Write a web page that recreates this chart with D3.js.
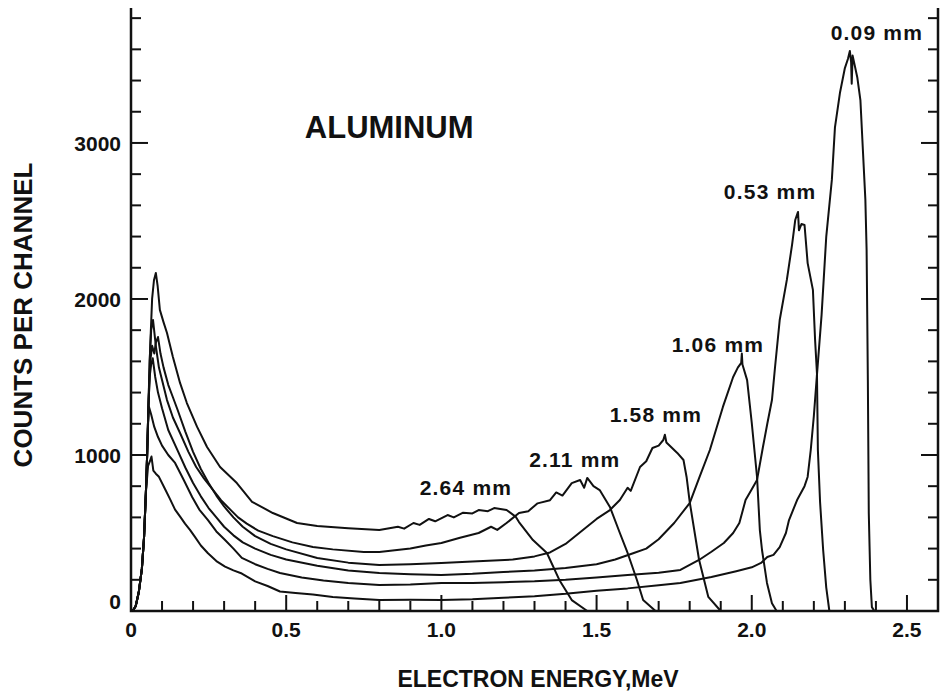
<!DOCTYPE html>
<html lang="en">
  <head>
    <meta charset="UTF-8" />
    <title>Aluminum electron spectra</title>
    <script src="https://d3js.org/d3.v7.min.js"></script>
    <style>
      body {
        margin: 0;
        background-color: #fff;
      }
      svg text {
        font-family: "Liberation Sans", Arial, sans-serif;
        font-weight: bold;
        fill: #111;
      }
    </style>
  </head>
  <body>
    <div id="chart"></div>
    <script>
      // spectra: [energy MeV, counts per channel]
      const al009 = [
        [0.005, 0], [0.015, 30], [0.025, 120], [0.035, 270], [0.042, 470], [0.048, 760],
        [0.055, 930], [0.061, 960], [0.066, 990], [0.072, 900], [0.08, 880], [0.09, 860],
        [0.11, 780], [0.125, 720], [0.142, 650], [0.16, 600], [0.174, 560], [0.19, 520],
        [0.206, 475], [0.225, 420], [0.248, 370], [0.275, 320], [0.303, 285], [0.33, 260],
        [0.357, 240], [0.4, 190], [0.44, 160], [0.48, 125], [0.53, 115], [0.586, 105],
        [0.65, 90], [0.72, 80], [0.8, 70], [0.9, 72], [1.0, 70], [1.1, 75], [1.2, 85],
        [1.3, 95], [1.4, 110], [1.5, 130], [1.6, 145], [1.7, 165], [1.77, 180], [1.87, 218],
        [1.95, 255], [2.0, 280], [2.03, 308], [2.05, 346], [2.07, 360], [2.09, 410],
        [2.11, 500], [2.12, 583], [2.146, 711], [2.17, 800], [2.18, 859], [2.19, 1032],
        [2.2, 1250], [2.21, 1513], [2.225, 1900], [2.24, 2400], [2.258, 2763], [2.268, 3100],
        [2.284, 3320], [2.3, 3480], [2.31, 3540], [2.316, 3590], [2.32, 3520], [2.322, 3380],
        [2.325, 3560], [2.34, 3420], [2.35, 3275], [2.358, 2955], [2.366, 2635], [2.37, 2314],
        [2.372, 1900], [2.374, 1480], [2.377, 628], [2.382, 200], [2.387, 25], [2.395, 0]
      ];
      const al053 = [
        [0.005, 0], [0.015, 30], [0.025, 120], [0.035, 270], [0.042, 470], [0.048, 760],
        [0.052, 1000], [0.055, 1200], [0.058, 1308], [0.065, 1260], [0.075, 1180],
        [0.087, 1115], [0.1, 1060], [0.12, 1000], [0.142, 949], [0.17, 840], [0.197, 731],
        [0.22, 650], [0.248, 583], [0.275, 510], [0.303, 455], [0.33, 400], [0.357, 340],
        [0.4, 300], [0.44, 270], [0.48, 244], [0.55, 215], [0.62, 195], [0.7, 180], [0.8, 167],
        [0.9, 170], [1.0, 180], [1.1, 180], [1.2, 185], [1.3, 190], [1.4, 200], [1.5, 215],
        [1.6, 230], [1.7, 245], [1.77, 263], [1.83, 327], [1.87, 380], [1.91, 436],
        [1.94, 500], [1.96, 564], [1.98, 711], [2.0, 780], [2.017, 840], [2.036, 1051],
        [2.05, 1200], [2.065, 1352], [2.075, 1564], [2.09, 1865], [2.113, 2122], [2.13, 2350],
        [2.14, 2506], [2.149, 2558], [2.152, 2440], [2.16, 2480], [2.17, 2474], [2.18, 2230],
        [2.197, 2058], [2.204, 1737], [2.21, 1525], [2.213, 1032], [2.22, 700], [2.23, 391],
        [2.24, 150], [2.25, 0]
      ];
      const al106 = [
        [0.005, 0], [0.015, 30], [0.025, 120], [0.035, 270], [0.042, 470], [0.048, 760],
        [0.052, 1000], [0.056, 1300], [0.06, 1500], [0.065, 1580], [0.07, 1620], [0.078, 1500],
        [0.087, 1400], [0.1, 1300], [0.12, 1160], [0.15, 1030], [0.175, 920], [0.2, 820],
        [0.225, 735], [0.25, 660], [0.275, 600], [0.3, 540], [0.33, 485], [0.36, 440],
        [0.4, 400], [0.45, 360], [0.5, 330], [0.6, 290], [0.7, 260], [0.8, 243], [0.9, 235],
        [1.0, 231], [1.1, 238], [1.2, 250], [1.3, 260], [1.4, 275], [1.5, 300], [1.56, 330],
        [1.62, 372], [1.66, 400], [1.7, 460], [1.75, 564], [1.8, 692], [1.83, 850],
        [1.865, 1032], [1.907, 1308], [1.94, 1500], [1.955, 1560], [1.966, 1590],
        [1.968, 1650], [1.97, 1580], [1.985, 1480], [2.0, 1205], [2.017, 859], [2.026, 519],
        [2.033, 391], [2.049, 180], [2.065, 50], [2.08, 0]
      ];
      const al158 = [
        [0.005, 0], [0.015, 30], [0.025, 120], [0.035, 270], [0.042, 470], [0.048, 760],
        [0.052, 1000], [0.056, 1300], [0.062, 1600], [0.068, 1700], [0.075, 1650],
        [0.08, 1720], [0.087, 1756], [0.095, 1650], [0.105, 1560], [0.12, 1450],
        [0.135, 1370], [0.15, 1290], [0.175, 1150], [0.2, 1020], [0.225, 910], [0.25, 820],
        [0.275, 740], [0.3, 670], [0.33, 600], [0.36, 540], [0.4, 480], [0.45, 430],
        [0.5, 395], [0.6, 340], [0.7, 310], [0.8, 295], [0.9, 300], [1.0, 308], [1.1, 318],
        [1.23, 330], [1.3, 350], [1.35, 375], [1.4, 430], [1.456, 519], [1.5, 590],
        [1.543, 647], [1.575, 711], [1.6, 790], [1.61, 770], [1.64, 923], [1.66, 960],
        [1.68, 1045], [1.7, 1060], [1.715, 1096], [1.72, 1130], [1.725, 1080], [1.76, 1013],
        [1.78, 968], [1.79, 859], [1.8, 700], [1.83, 330], [1.86, 90], [1.9, 0]
      ];
      const al211 = [
        [0.005, 0], [0.015, 30], [0.025, 120], [0.035, 270], [0.042, 470], [0.048, 760],
        [0.052, 1000], [0.056, 1300], [0.06, 1600], [0.065, 1800], [0.071, 1865],
        [0.08, 1700], [0.09, 1560], [0.1, 1480], [0.116, 1352], [0.135, 1240], [0.158, 1141],
        [0.185, 1020], [0.21, 923], [0.235, 850], [0.264, 776], [0.29, 710], [0.32, 650],
        [0.345, 600], [0.373, 560], [0.41, 515], [0.457, 480], [0.52, 440], [0.586, 410],
        [0.65, 395], [0.75, 378], [0.8, 378], [0.9, 400], [0.95, 420], [1.0, 436], [1.06, 470],
        [1.12, 500], [1.16, 540], [1.18, 520], [1.21, 564], [1.25, 628], [1.28, 640],
        [1.31, 690], [1.35, 710], [1.37, 760], [1.39, 740], [1.42, 820], [1.447, 840],
        [1.46, 790], [1.47, 853], [1.49, 800], [1.51, 775], [1.543, 667], [1.575, 500],
        [1.6, 372], [1.63, 199], [1.65, 70], [1.69, 0]
      ];
      const al264 = [
        [0.005, 0], [0.015, 30], [0.025, 120], [0.035, 270], [0.042, 470], [0.048, 760],
        [0.052, 1000], [0.056, 1300], [0.062, 1700], [0.068, 2000], [0.074, 2120],
        [0.08, 2167], [0.086, 2080], [0.093, 1930], [0.105, 1850], [0.116, 1782],
        [0.135, 1628], [0.158, 1462], [0.18, 1333], [0.213, 1180], [0.245, 1051],
        [0.287, 923], [0.341, 820], [0.39, 700], [0.457, 628], [0.535, 564], [0.6, 545],
        [0.7, 530], [0.8, 519], [0.86, 540], [0.88, 528], [0.91, 564], [0.93, 552],
        [0.96, 590], [0.98, 575], [1.02, 615], [1.04, 600], [1.07, 630], [1.1, 625],
        [1.12, 647], [1.15, 640], [1.17, 660], [1.21, 647], [1.24, 603], [1.25, 570],
        [1.295, 455], [1.34, 372], [1.38, 199], [1.42, 70], [1.47, 0]
      ];

      const seriesData = [al009, al053, al106, al158, al211, al264];
      const thicknessLabels = ["0.09 mm", "0.53 mm", "1.06 mm", "1.58 mm", "2.11 mm", "2.64 mm"];
      // where each label sits, in energy / counts
      const labelAnchors = [[2.403, 3660], [2.059, 2641], [1.891, 1660], [1.691, 1212], [1.43, 923], [1.079, 744]];

      const energyTicks = [0, 0.5, 1.0, 1.5, 2.0, 2.5];
      const energyTickLabels = ["0", "0.5", "1.0", "1.5", "2.0", "2.5"];
      const countTicks = [0, 1000, 2000, 3000];
      const countTickLabels = ["0", "1000", "2000", "3000"];

      const width = 945;
      const height = 698;

      const svg = d3
        .select("#chart")
        .append("svg")
        .attr("width", width)
        .attr("height", height);

      const x = d3.scaleLinear().domain([0, 2.6]).range([131, 938]);
      const y = d3.scaleLinear().domain([0, 3865]).range([611, 8]);

      // frame: left, bottom, right (no top line)
      const frame = svg.append("g").attr("stroke", "#111").attr("stroke-width", 2.5).attr("fill", "none");
      frame.append("path")
        .attr("d", `M${x(0)},${y(3865)}V${y(0)}H${x(2.6)}V${y(3865)}`);

      // minor / major ticks, drawn inward
      const yMinor = d3.range(200, 3865, 200);
      frame.selectAll(".yl")
        .data(yMinor)
        .join("line")
        .attr("x1", x(0))
        .attr("x2", (d) => x(0) + (d % 1000 === 0 ? 17 : 10))
        .attr("y1", (d) => y(d))
        .attr("y2", (d) => y(d))
        .attr("stroke-width", 2);
      frame.selectAll(".yr")
        .data(yMinor)
        .join("line")
        .attr("x1", x(2.6))
        .attr("x2", (d) => x(2.6) - (d % 1000 === 0 ? 17 : 10))
        .attr("y1", (d) => y(d))
        .attr("y2", (d) => y(d))
        .attr("stroke-width", 2);

      const xMinor = d3.range(1, 26).map((i) => i / 10);
      frame.selectAll(".xt")
        .data(xMinor)
        .join("line")
        .attr("x1", (d) => x(d))
        .attr("x2", (d) => x(d))
        .attr("y1", y(0))
        .attr("y2", (d, i) => y(0) - ((i + 1) % 5 === 0 ? 16 : 10))
        .attr("stroke-width", 2);

      // tick labels
      svg.selectAll(".xlab")
        .data(energyTicks)
        .join("text")
        .attr("x", (d) => x(d))
        .attr("y", 637)
        .attr("text-anchor", "middle")
        .attr("font-size", 21)
        .text((d, i) => energyTickLabels[i]);

      svg.selectAll(".ylab")
        .data(countTicks)
        .join("text")
        .attr("x", 121)
        .attr("y", (d) => (d === 0 ? y(d) - 10 : y(d)))
        .attr("dy", "0.36em")
        .attr("text-anchor", "end")
        .attr("font-size", 21)
        .text((d, i) => countTickLabels[i]);

      // spectra
      const line = d3
        .line()
        .x((d) => x(d[0]))
        .y((d) => y(d[1]))
        .curve(d3.curveLinear);

      svg.append("g")
        .selectAll("path")
        .data(seriesData)
        .join("path")
        .attr("d", line)
        .attr("fill", "none")
        .attr("stroke", "#111")
        .attr("stroke-width", 2)
        .attr("stroke-linejoin", "round");

      svg.selectAll(".thick")
        .data(thicknessLabels)
        .join("text")
        .attr("x", (d, i) => x(labelAnchors[i][0]))
        .attr("y", (d, i) => y(labelAnchors[i][1]))
        .attr("text-anchor", "middle")
        .attr("font-size", 21)
        .attr("letter-spacing", 1.2)
        .text((d) => d);

      svg.append("text")
        .attr("x", x(0.56))
        .attr("y", y(3032))
        .attr("font-size", 31)
        .text("ALUMINUM");

      svg.append("text")
        .attr("x", 538)
        .attr("y", 687)
        .attr("text-anchor", "middle")
        .attr("font-size", 23)
        .text("ELECTRON ENERGY,MeV");

      svg.append("text")
        .attr("transform", "translate(32,315) rotate(-90)")
        .attr("text-anchor", "middle")
        .attr("font-size", 26)
        .text("COUNTS PER CHANNEL");
    </script>
  </body>
</html>
